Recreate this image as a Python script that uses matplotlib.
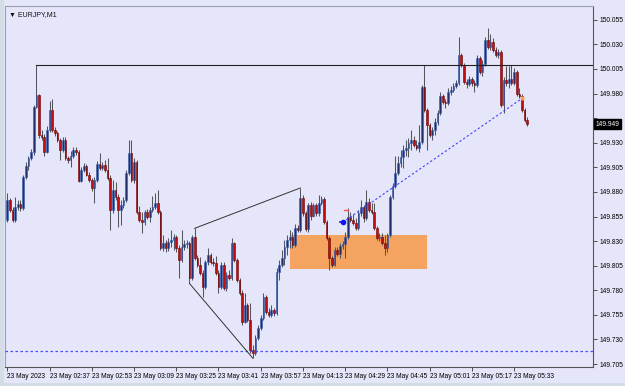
import matplotlib.pyplot as plt
from matplotlib.patches import Rectangle

# EURJPY M1, 23 May 2023 02:21 - 05:38
first_open = 149.851
closes = [
    149.872, 149.862, 149.851, 149.865, 149.868, 149.864, 149.895, 149.906, 149.914, 149.921,
    149.966, 149.979, 149.938, 149.936, 149.921, 149.943, 149.963, 149.943, 149.940, 149.933,
    149.923, 149.933, 149.914, 149.912, 149.917, 149.923, 149.921, 149.891, 149.902, 149.906,
    149.897, 149.892, 149.884, 149.892, 149.908, 149.904, 149.907, 149.902, 149.894, 149.862,
    149.882, 149.875, 149.862, 149.867, 149.872, 149.899, 149.920, 149.892, 149.910, 149.860,
    149.851, 149.849, 149.860, 149.854, 149.862, 149.865, 149.869, 149.860, 149.823, 149.828,
    149.823, 149.829, 149.831, 149.834, 149.823, 149.811, 149.824, 149.827, 149.828, 149.792,
    149.834, 149.813, 149.806, 149.798, 149.783, 149.809, 149.816, 149.809, 149.808, 149.798,
    149.783, 149.806, 149.782, 149.796, 149.792, 149.828, 149.811, 149.790, 149.777, 149.748,
    149.765, 149.750, 149.719, 149.716, 149.731, 149.742, 149.752, 149.773, 149.758, 149.755,
    149.760, 149.757, 149.799, 149.806, 149.813, 149.824, 149.831, 149.834, 149.826, 149.843,
    149.841, 149.874, 149.859, 149.842, 149.867, 149.856, 149.867, 149.859, 149.869, 149.873,
    149.849, 149.833, 149.813, 149.806, 149.821, 149.817, 149.825, 149.827, 149.834, 149.854,
    149.851, 149.848, 149.843, 149.859, 149.865, 149.853, 149.870, 149.862, 149.860, 149.843,
    149.833, 149.834, 149.828, 149.823, 149.836, 149.875, 149.886, 149.899, 149.909, 149.915,
    149.923, 149.925, 149.930, 149.933, 149.928, 149.925, 149.931, 149.987, 149.963, 149.948,
    149.938, 149.943, 149.951, 149.960, 149.978, 149.971, 149.970, 149.982, 149.984, 149.988,
    149.991, 150.019, 150.009, 149.992, 149.990, 149.995, 149.991, 149.989, 150.016, 150.002,
    150.010, 150.034, 150.027, 150.032, 150.024, 150.019, 150.022, 149.968, 149.994, 149.991,
    149.995, 149.991, 150.002, 149.980, 149.978, 149.963, 149.953, 149.949,
]
highs = [
    149.879, 149.874, 149.865, 149.875, 149.872, 149.872, 149.897, 149.910, 149.917, 149.924,
    149.968, 150.009, 149.980, 149.943, 149.939, 149.947, 149.972, 149.974, 149.946, 149.942,
    149.935, 149.936, 149.936, 149.917, 149.922, 149.926, 149.926, 149.923, 149.905, 149.909,
    149.908, 149.900, 149.894, 149.895, 149.911, 149.920, 149.910, 149.912, 149.914, 149.897,
    149.892, 149.890, 149.878, 149.872, 149.875, 149.902, 149.933, 149.933, 149.914, 149.912,
    149.866, 149.860, 149.862, 149.863, 149.865, 149.876, 149.879, 149.882, 149.862, 149.836,
    149.831, 149.833, 149.841, 149.837, 149.836, 149.826, 149.841, 149.831, 149.831, 149.830,
    149.836, 149.843, 149.816, 149.814, 149.801, 149.811, 149.823, 149.818, 149.813, 149.815,
    149.801, 149.809, 149.809, 149.799, 149.801, 149.833, 149.829, 149.813, 149.792, 149.780,
    149.777, 149.767, 149.767, 149.724, 149.735, 149.745, 149.755, 149.777, 149.775, 149.762,
    149.765, 149.762, 149.803, 149.811, 149.821, 149.831, 149.836, 149.841, 149.839, 149.847,
    149.846, 149.884, 149.877, 149.861, 149.869, 149.870, 149.869, 149.869, 149.877, 149.876,
    149.875, 149.851, 149.835, 149.815, 149.824, 149.824, 149.828, 149.830, 149.839, 149.864,
    149.860, 149.858, 149.853, 149.862, 149.872, 149.867, 149.882, 149.874, 149.869, 149.869,
    149.845, 149.838, 149.838, 149.836, 149.838, 149.877, 149.889, 149.917, 149.917, 149.923,
    149.928, 149.933, 149.935, 149.943, 149.937, 149.933, 149.948, 149.989, 150.009, 149.965,
    149.950, 149.946, 149.955, 149.963, 149.982, 149.980, 149.974, 149.986, 149.988, 149.991,
    149.994, 150.037, 150.021, 150.011, 149.995, 149.998, 149.997, 149.994, 150.019, 150.018,
    150.014, 150.037, 150.047, 150.041, 150.036, 150.027, 150.025, 150.024, 149.997, 150.008,
    150.008, 150.009, 150.006, 150.004, 149.986, 149.980, 149.965, 149.956,
]
lows = [
    149.849, 149.860, 149.849, 149.849, 149.862, 149.861, 149.862, 149.893, 149.902, 149.912,
    149.918, 149.965, 149.935, 149.933, 149.917, 149.920, 149.941, 149.941, 149.937, 149.931,
    149.912, 149.921, 149.912, 149.909, 149.905, 149.914, 149.918, 149.890, 149.890, 149.900,
    149.896, 149.890, 149.881, 149.869, 149.890, 149.902, 149.902, 149.900, 149.892, 149.841,
    149.859, 149.872, 149.844, 149.846, 149.864, 149.870, 149.897, 149.890, 149.889, 149.858,
    149.849, 149.838, 149.846, 149.852, 149.849, 149.860, 149.863, 149.858, 149.821, 149.820,
    149.819, 149.820, 149.824, 149.821, 149.819, 149.792, 149.809, 149.821, 149.823, 149.787,
    149.790, 149.811, 149.804, 149.796, 149.773, 149.781, 149.806, 149.807, 149.805, 149.796,
    149.777, 149.781, 149.780, 149.779, 149.790, 149.790, 149.809, 149.788, 149.775, 149.745,
    149.747, 149.748, 149.716, 149.711, 149.714, 149.729, 149.740, 149.750, 149.756, 149.753,
    149.753, 149.754, 149.755, 149.790, 149.804, 149.806, 149.816, 149.823, 149.823, 149.824,
    149.839, 149.839, 149.856, 149.840, 149.839, 149.851, 149.854, 149.856, 149.856, 149.867,
    149.847, 149.831, 149.801, 149.804, 149.805, 149.815, 149.813, 149.822, 149.813, 149.832,
    149.849, 149.846, 149.841, 149.841, 149.856, 149.849, 149.851, 149.860, 149.858, 149.841,
    149.831, 149.830, 149.826, 149.816, 149.819, 149.834, 149.873, 149.884, 149.897, 149.905,
    149.904, 149.917, 149.915, 149.923, 149.926, 149.923, 149.921, 149.929, 149.961, 149.923,
    149.936, 149.933, 149.938, 149.948, 149.958, 149.969, 149.965, 149.968, 149.979, 149.982,
    149.986, 149.989, 150.007, 149.990, 149.986, 149.988, 149.988, 149.982, 149.987, 150.000,
    149.998, 150.008, 150.025, 150.024, 150.022, 150.017, 150.016, 149.966, 149.960, 149.988,
    149.986, 149.989, 149.989, 149.978, 149.975, 149.961, 149.951, 149.947,
]

time_ticks = [0, 16, 32, 48, 64, 80, 96, 112, 128, 144, 160, 176, 192]
time_labels = ["23 May 2023", "23 May 02:37", "23 May 02:53", "23 May 03:09",
               "23 May 03:25", "23 May 03:41", "23 May 03:57", "23 May 04:13",
               "23 May 04:29", "23 May 04:45", "23 May 05:01", "23 May 05:17",
               "23 May 05:33"]
price_ticks = [149.705, 149.730, 149.755, 149.780, 149.805, 149.830, 149.855,
               149.880, 149.905, 149.930, 149.955, 149.980, 150.005, 150.030, 150.055]

# drawn objects
resistance = 150.009
resistance_from = 11
support = 149.718
upper_line = [(71, 149.843), (111, 149.884)]
lower_line = [(69, 149.787), (93, 149.711)]
zone_bars = (107, 159)
zone_prices = (149.802, 149.836)
dash_line = [(127, 149.849), (195, 149.975)]
red_mark = (128.3, 149.862)
last_price = 149.949

bg = "#e6e6fa"
fig = plt.figure(figsize=(6.25, 3.86), dpi=100, facecolor=bg)
ax = fig.add_axes([5 / 625, 1 - 367 / 386, 588 / 625, 361 / 386])
ax.set_facecolor(bg)

n = len(closes)
opens = [first_open] + closes[:-1]
xs = list(range(n))

ax.vlines(xs, lows, highs, color="#55555e", lw=0.75, zorder=3)
bottoms = [min(o, c) for o, c in zip(opens, closes)]
heights = [max(abs(c - o), 0.0012) for o, c in zip(opens, closes)]
fills = ["#1f2f6b" if c >= o else "#c00d0d" for o, c in zip(opens, closes)]
edges = ["#3b5fae" if c >= o else "#6e0000" for o, c in zip(opens, closes)]
ax.bar(xs, heights, bottom=bottoms, width=0.62, color=fills, edgecolor=edges,
       linewidth=0.4, zorder=4)

# orange zone
ax.add_patch(Rectangle((zone_bars[0], zone_prices[0]), zone_bars[1] - zone_bars[0],
                       zone_prices[1] - zone_prices[0], facecolor="#f4a460",
                       edgecolor="none", zorder=2))

ax.plot([resistance_from, 230], [resistance, resistance], color="#222222", lw=0.8, zorder=5)
ax.axhline(support, color="#4b4bff", lw=0.9, ls=(0, (2, 2)), zorder=5)
ax.plot(*zip(*upper_line), color="#333333", lw=0.7, zorder=5)
ax.plot(*zip(*lower_line), color="#333333", lw=0.7, zorder=5)
ax.plot(*zip(*dash_line), color="#4040ff", lw=0.8, ls=(0, (2, 2)), zorder=5)
ax.plot([dash_line[0][0]], [dash_line[0][1]], marker="o", ms=3, color="#1010ff", zorder=6)
ax.plot([dash_line[0][0] - 1, dash_line[0][0] + 1], [dash_line[0][1]] * 2,
        color="#1010ff", lw=1.2, zorder=6)
ax.plot([dash_line[1][0]], [dash_line[1][1]], marker="o", ms=2, color="#f4a460", zorder=6)
ax.plot([red_mark[0] - 0.8, red_mark[0] + 0.8], [red_mark[1]] * 2, color="#ff5050",
        lw=1.0, zorder=6)

ax.set_xlim(-0.87, 221.9)
ax.set_ylim(149.702, 150.069)

ax.set_xticks(time_ticks)
ax.set_xticklabels(time_labels, fontsize=4.8, family="Liberation Sans")
for lbl in ax.get_xticklabels():
    lbl.set_horizontalalignment("left")
ax.set_yticks(price_ticks)
ylabels = [f"{p:.3f}" for p in price_ticks]
ax.set_yticklabels(ylabels, fontsize=4.8, family="Liberation Sans")
ax.yaxis.tick_right()
ax.tick_params(axis="both", length=3, width=0.6, color="#333333", pad=1.5)
# the price tag hides the label under it
ax.get_yticklabels()[ylabels.index("149.955")].set_visible(False)

for side in ["left", "top"]:
    ax.spines[side].set_color("#9aa0aa")
for side in ["right", "bottom"]:
    ax.spines[side].set_color("#555555")
for sp in ax.spines.values():
    sp.set_linewidth(0.8)

ax.annotate(f"{last_price:.3f}", xy=(1.0, last_price), xycoords=("axes fraction", "data"),
            xytext=(2, 0), textcoords="offset points", fontsize=4.8, color="white",
            family="Liberation Sans", va="center", ha="left",
            bbox=dict(boxstyle="square,pad=0.25", fc="black", ec="black"))

ax.text(0.006, 0.985, "\u25bc EURJPY,M1", transform=ax.transAxes, fontsize=5,
        va="top", ha="left", color="#111111", family=["Liberation Sans", "DejaVu Sans"])

# window frame
fig.patches.append(Rectangle((0, 0), 4 / 625, 1, transform=fig.transFigure,
                             facecolor="#d4dde6", edgecolor="none"))
fig.patches.append(Rectangle((0, 0), 1, 3 / 386, transform=fig.transFigure,
                             facecolor="#d4dde6", edgecolor="none"))

fig.savefig("out.png", dpi=100, facecolor=bg)
